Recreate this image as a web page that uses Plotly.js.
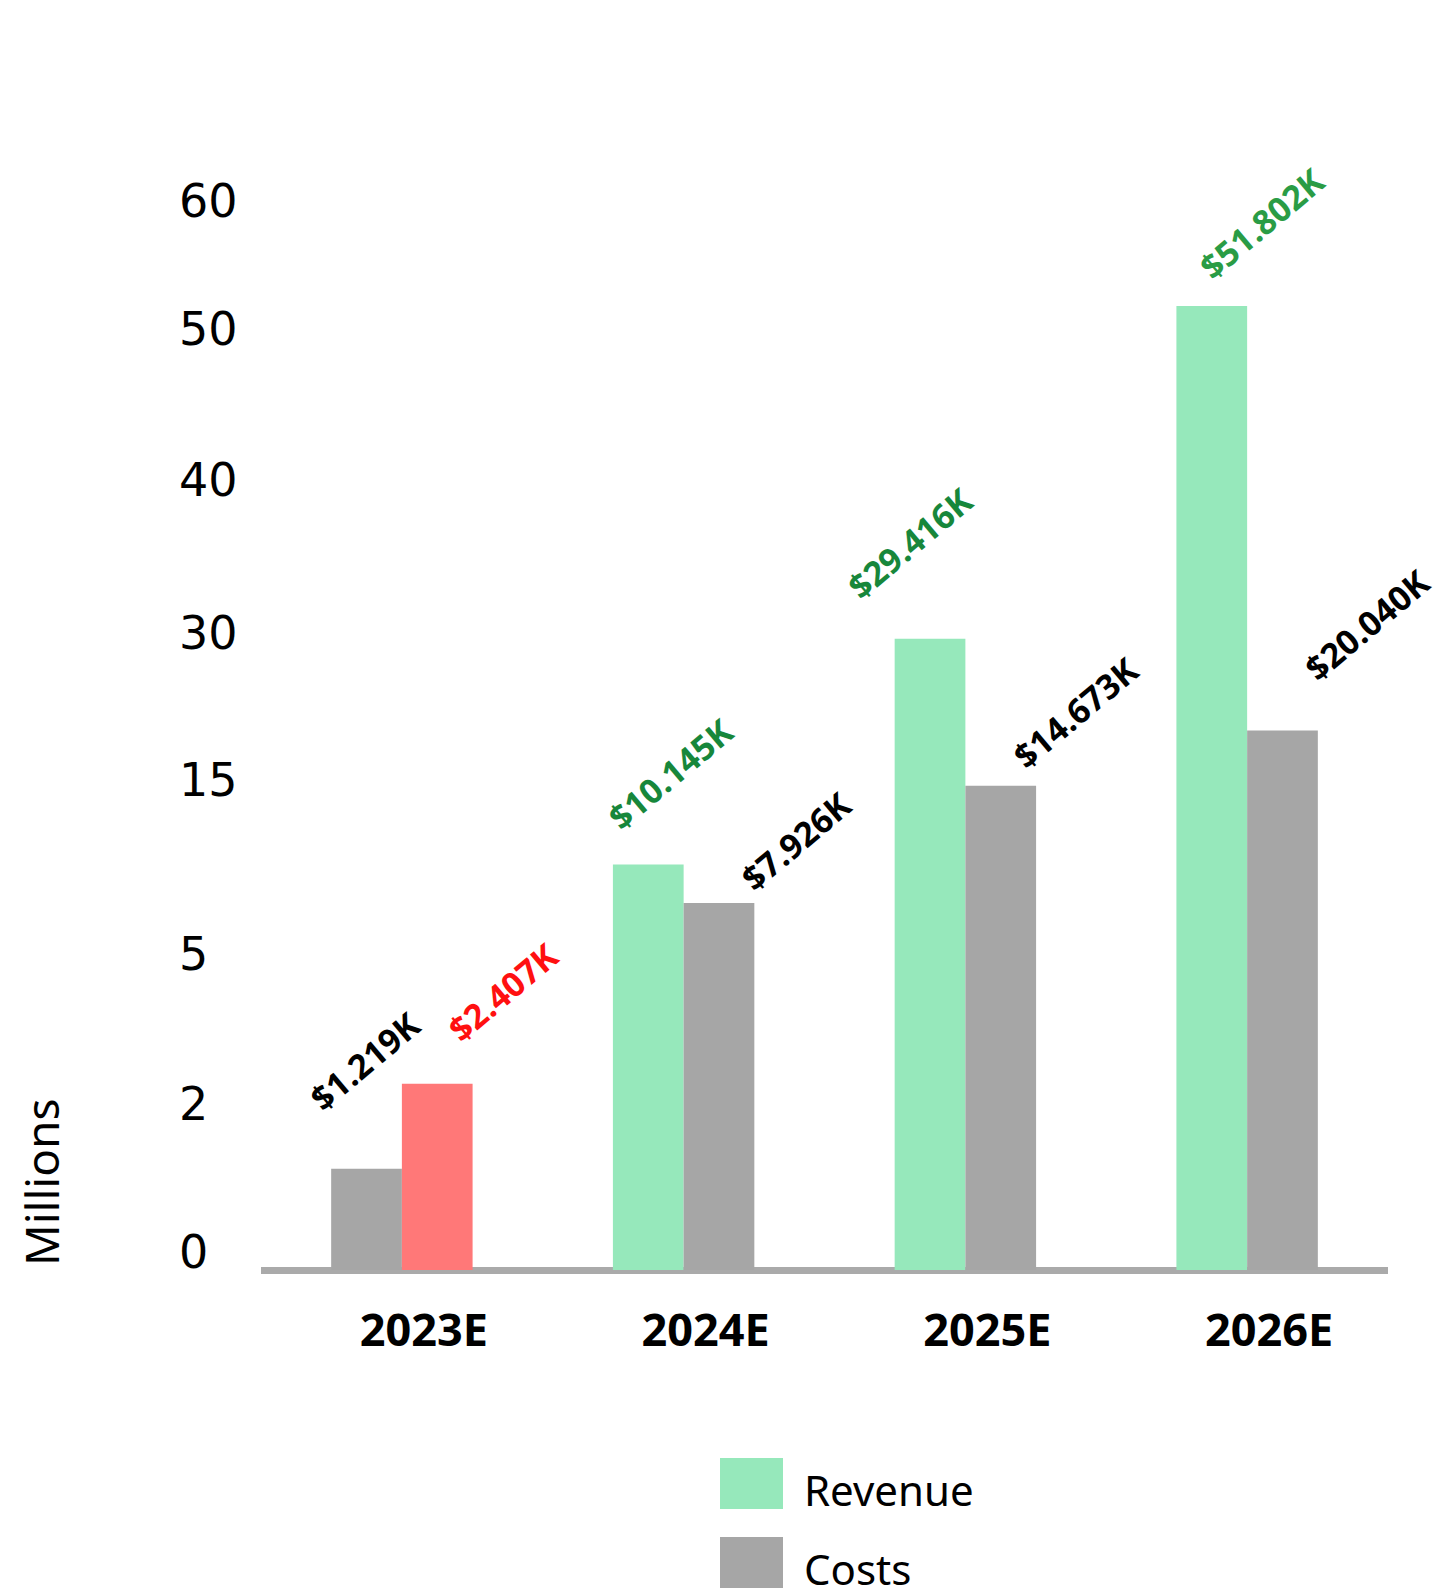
<!DOCTYPE html>
<html><head><meta charset="utf-8">
<script src="https://cdn.plot.ly/plotly-3.0.1.min.js"></script>
<style>html,body{margin:0;padding:0;background:#fff;} #chart{width:1437px;height:1591px;}</style>
</head><body><div id="chart"></div>
<script>
// ---- data ----
const categories = ['2023E', '2024E', '2025E', '2026E'];
const revenue = [1.219, 10.145, 29.416, 51.802];   // millions
const costs = [2.407, 7.926, 14.673, 20.040];      // millions
const revenueLabels = ['$1.219K', '$10.145K', '$29.416K', '$51.802K'];
const costsLabels = ['$2.407K', '$7.926K', '$14.673K', '$20.040K'];
const tickValues = [0, 2, 5, 15, 30, 40, 50, 60];
const tickLabels = ['0', '2', '5', '15', '30', '40', '50', '60'];
const seriesNames = ['Revenue', 'Costs'];

// ---- styling / layout ----
const W = 1437, H = 1591;
const M = {l: 261, r: 49, t: 100, b: 293};
const plotW = W - M.l - M.r, plotH = H - M.t - M.b;
const yRange = [-28, 1170];               // axis units = pixels above baseline
const tickSpacing = [0, 166, 316, 490, 637, 790, 941, 1069]; // non-linear scale knots (as drawn in the source)
function scale(v) {
  for (let i = 1; i < tickValues.length; i++) {
    if (v <= tickValues[i]) {
      const a = tickValues[i-1], b = tickValues[i];
      return tickSpacing[i-1] + (v - a) / (b - a) * (tickSpacing[i] - tickSpacing[i-1]);
    }
  }
  return tickSpacing[tickSpacing.length-1];
}
const GREEN = '#96e8bb', GRAY = '#a6a6a6', RED = '#ff7878';
const revenueColors = [GRAY, GREEN, GREEN, GREEN];
const costsColors = [RED, GRAY, GRAY, GRAY];
const revenueLabelColors = ['#000000', '#17873b', '#17873b', '#2a9c45'];
const costsLabelColors = ['#ff1010', '#000000', '#000000', '#000000'];
// label centre offsets from bar top-centre (px, +dy = down)
const revDx = [-1.7, 22.1, -20.3, 50.2], revDy = [-107.5, -90.2, -96.1, -82.7];
const costDx = [65.6, 76.8, 74.3, 84], costDy = [-91.5, -62, -72.6, -106];
const bargap = 0.498;
const halfBar = plotW / categories.length * (1 - bargap) / 4;

const px2x = px => (px - M.l) / plotW;
const px2y = py => (M.t + plotH - py) / plotH;

const traces = [
  {type: 'bar', name: seriesNames[0], x: categories, y: revenue.map(scale),
   marker: {color: revenueColors}, showlegend: false, hoverinfo: 'skip'},
  {type: 'bar', name: seriesNames[1], x: categories, y: costs.map(scale),
   marker: {color: costsColors}, showlegend: false, hoverinfo: 'skip'}
];

const annotations = [];
const valFont = {family: 'Open Sans, sans-serif', size: 34, weight: 700};
categories.forEach((c, i) => {
  annotations.push({x: c, xref: 'x', y: scale(revenue[i]), yref: 'y', text: revenueLabels[i],
    showarrow: false, textangle: -40, xanchor: 'center', yanchor: 'middle',
    xshift: -halfBar + revDx[i], yshift: -revDy[i],
    font: Object.assign({}, valFont, {color: revenueLabelColors[i]})});
  annotations.push({x: c, xref: 'x', y: scale(costs[i]), yref: 'y', text: costsLabels[i],
    showarrow: false, textangle: -40, xanchor: 'center', yanchor: 'middle',
    xshift: halfBar + costDx[i], yshift: -costDy[i],
    font: Object.assign({}, valFont, {color: costsLabelColors[i]})});
});
// y tick labels (left aligned)
tickValues.forEach((v, i) => {
  annotations.push({x: px2x(177), xref: 'paper', y: scale(v) + (v === 0 ? 18 : 0), yref: 'y',
    text: tickLabels[i], showarrow: false, xanchor: 'left', yanchor: 'middle',
    font: {family: 'DejaVu Sans, sans-serif', size: 46, color: '#000'}});
});
// y axis title
annotations.push({x: px2x(41), xref: 'paper', y: px2y(1182), yref: 'paper', text: 'Millions',
  showarrow: false, textangle: -90, xanchor: 'center', yanchor: 'middle',
  font: {family: 'Noto Sans, sans-serif', size: 46, color: '#000'}});
// legend
const legendColors = [GREEN, GRAY];
const legendTop = [1458, 1537];
const shapes = [];
seriesNames.forEach((n, i) => {
  shapes.push({type: 'rect', xref: 'paper', yref: 'paper', x0: px2x(720), x1: px2x(783),
    y0: px2y(legendTop[i] + 51), y1: px2y(legendTop[i]), fillcolor: legendColors[i], line: {width: 0}});
  annotations.push({x: px2x(802), xref: 'paper', y: px2y(legendTop[i] + 31), yref: 'paper', text: n,
    showarrow: false, xanchor: 'left', yanchor: 'middle',
    font: {family: 'Noto Sans, sans-serif', size: 42, color: '#000'}});
});

const layout = {
  width: W, height: H, margin: M,
  paper_bgcolor: '#fff', plot_bgcolor: '#fff',
  barmode: 'group', bargap: bargap, bargroupgap: 0,
  showlegend: false,
  xaxis: {type: 'category', range: [-0.5, categories.length - 0.5], autorange: false,
    showgrid: false, showline: false, zeroline: false, ticks: '',
    tickfont: {family: 'Open Sans, sans-serif', size: 45, color: '#000', weight: 700},
    ticklabelshift: 22, ticklabelstandoff: 2},
  yaxis: {range: yRange, autorange: false, showgrid: false, showticklabels: false, ticks: '',
    zeroline: true, zerolinecolor: '#aaaaaa', zerolinewidth: 7},
  annotations: annotations, shapes: shapes
};
Plotly.newPlot('chart', traces, layout, {displayModeBar: false, staticPlot: true});
</script>
</body></html>
